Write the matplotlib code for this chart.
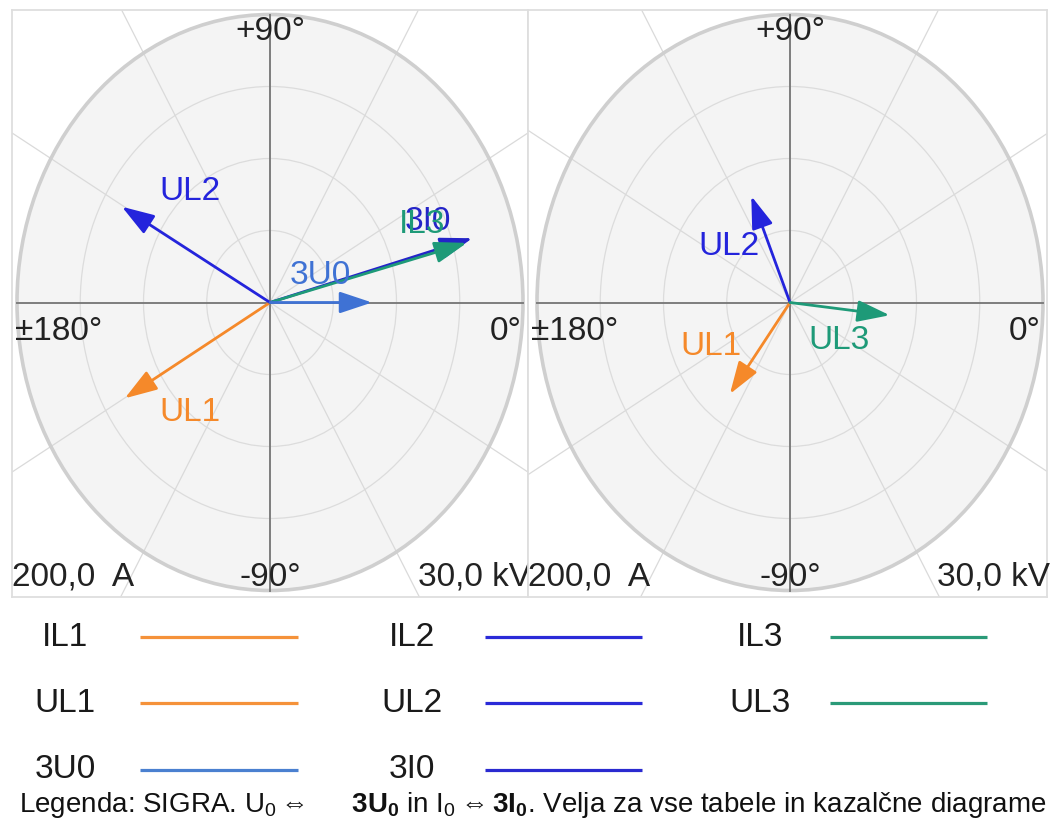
import numpy as np
import matplotlib
matplotlib.use("Agg")
import matplotlib.pyplot as plt
from matplotlib.patches import Circle

plt.rcParams['font.family'] = ['Liberation Sans', 'DejaVu Sans']
plt.rcParams['mathtext.fontset'] = 'custom'
plt.rcParams['mathtext.rm'] = 'Liberation Sans'
plt.rcParams['mathtext.bf'] = 'Liberation Sans:bold'
plt.rcParams['mathtext.it'] = 'Liberation Sans:italic'

# ---------------- data ----------------
current_scale_A = 200.0     # full-scale radius for currents
voltage_scale_kV = 30.0     # full-scale radius for voltages

left_names = ['3I0', 'IL3', 'UL1', 'UL2', '3U0']
left_mags = [166.0, 161.0, 19.9, 20.2, 12.1]
left_angles = [15.6, 14.9, -149.9, 150.4, 0.0]
left_units = ['A', 'A', 'kV', 'kV', 'kV']

right_names = ['UL1', 'UL2', 'UL3']
right_mags = [11.9, 12.0, 11.9]
right_angles = [-126.8, 112.5, -6.4]
right_units = ['kV', 'kV', 'kV']

legend_labels = ['IL1', 'IL2', 'IL3', 'UL1', 'UL2', 'UL3', '3U0', '3I0']

angle_labels = ['+90°', '-90°', '±180°', '0°']
scale_labels = ['200,0  A', '30,0 kV']

# ---------------- styles ----------------
colors = {
    'IL1': '#F5892A', 'UL1': '#F5892A',
    'IL2': '#2424DC', 'UL2': '#2424DC', '3I0': '#2424C8',
    'IL3': '#1E9A78', 'UL3': '#1E9A78',
    '3U0': '#3F72D4',
}
legend_colors = {
    'IL1': '#F5923A', 'UL1': '#F5923A',
    'IL2': '#2A2AD8', 'UL2': '#2A2AD8', '3I0': '#2A2AD0',
    'IL3': '#2A9A78', 'UL3': '#2A9A78',
    '3U0': '#4A80D0',
}
# label positions (data units of the unit circle)
left_label_pos = {'UL2': (-0.316, 0.385), 'UL1': (-0.316, -0.382),
                  '3U0': (0.20, 0.094), 'IL3': (0.600, 0.272), '3I0': (0.625, 0.280)}
right_label_pos = {'UL2': (-0.241, 0.194), 'UL1': (-0.312, -0.153), 'UL3': (0.194, -0.132)}

W, H = 1053, 831
fig = plt.figure(figsize=(W / 100, H / 100), dpi=100)
fig.patch.set_facecolor('white')

PX_X = 253.0  # pixels per unit radius horizontally
PX_Y = 288.0  # pixels per unit radius vertically
TXT = 24


def make_panel(frame_x0, frame_x1, cx, names, mags, angles, units, label_pos):
    top, bottom, cy = 10, 597, 302.5
    ax = fig.add_axes([frame_x0 / W, 1 - bottom / H, (frame_x1 - frame_x0) / W, (bottom - top) / H])
    ax.set_xlim(-(cx - frame_x0) / PX_X, (frame_x1 - cx) / PX_X)
    ax.set_ylim(-(bottom - cy) / PX_Y, (cy - top) / PX_Y)
    ax.set_aspect('auto')
    ax.set_xticks([])
    ax.set_yticks([])
    for s in ax.spines.values():
        s.set_color('#dedede')
        s.set_linewidth(1.3)
    ax.add_patch(Circle((0, 0), 1.0, facecolor='#f4f4f4', edgecolor='none', zorder=0))
    for r in [0.25, 0.5, 0.75]:
        ax.add_patch(Circle((0, 0), r, facecolor='none', edgecolor='#dcdcdc', lw=0.9, zorder=1))
    for a in range(30, 360, 30):
        if a % 90 == 0:
            continue
        t = np.deg2rad(a)
        ax.plot([0, 3 * np.cos(t)], [0, 3 * np.sin(t)], color='#dadada', lw=0.9, zorder=1)
    ax.add_patch(Circle((0, 0), 1.0, facecolor='none', edgecolor='#cfcfcf', lw=2.6, zorder=2))
    ax.plot([-1, 1], [0, 0], color='#7d7d7d', lw=1.4, zorder=3)
    ax.plot([0, 0], [-1, 1], color='#7d7d7d', lw=1.4, zorder=3)
    ax.text(0, (cy - 32) / PX_Y, angle_labels[0], ha='center', va='center', fontsize=TXT, color='#222222', zorder=6)
    ax.text(0, -(577 - cy) / PX_Y, angle_labels[1], ha='center', va='center', fontsize=TXT, color='#222222', zorder=6)
    ax.text(-(cx - frame_x0 - 3) / PX_X, -(331 - cy) / PX_Y, angle_labels[2], ha='left', va='center',
            fontsize=TXT, color='#222222', zorder=6)
    ax.text((frame_x1 - cx - 6) / PX_X, -(331 - cy) / PX_Y, angle_labels[3], ha='right', va='center',
            fontsize=TXT, color='#222222', zorder=6)
    ax.text(0.0, -(577 - cy) / PX_Y, scale_labels[0], transform=ax.get_yaxis_transform(),
            ha='left', va='center', fontsize=TXT, color='#222222', zorder=6, clip_on=False)
    ax.text(1.006, -(577 - cy) / PX_Y, scale_labels[1], transform=ax.get_yaxis_transform(),
            ha='right', va='center', fontsize=TXT, color='#222222', zorder=6, clip_on=False)
    for n, m, a, u in zip(names, mags, angles, units):
        scale = current_scale_A if u == 'A' else voltage_scale_kV
        r = m / scale
        t = np.deg2rad(a)
        ax.annotate('', xy=(r * np.cos(t), r * np.sin(t)), xytext=(0, 0),
                    arrowprops=dict(arrowstyle='-|>,head_length=0.9,head_width=0.3', mutation_scale=22,
                                    lw=2.0, color=colors[n], shrinkA=0, shrinkB=0), zorder=5)
        lx, ly = label_pos[n]
        ax.text(lx, ly, n, color=colors[n], fontsize=TXT, ha='center', va='center', zorder=6)
    return ax


make_panel(12, 528, 270, left_names, left_mags, left_angles, left_units, left_label_pos)
make_panel(528, 1047, 790, right_names, right_mags, right_angles, right_units, right_label_pos)

# ---------------- legend ----------------
lax = fig.add_axes([0, 0, 1, 1], zorder=-1)
lax.set_xlim(0, W)
lax.set_ylim(H, 0)
lax.axis('off')
col_text_x = [65, 412, 760]
col_line_x = [(140, 298), (485, 642), (830, 987)]
row_y = [637, 703, 770]
for i, lab in enumerate(legend_labels):
    row, col = divmod(i, 3)
    lax.text(col_text_x[col], row_y[row], lab, ha='center', va='center', fontsize=TXT, color='#1a1a1a')
    x0, x1 = col_line_x[col]
    lax.plot([x0, x1], [row_y[row], row_y[row]], color=legend_colors[lab], lw=2.3, solid_capstyle='butt')

caption = (r"Legenda: SIGRA. U$_0$$\Leftrightarrow$     $\mathbf{3U_0}$ in I$_0$$\Leftrightarrow$"
           r"$\mathbf{3I_0}$. Velja za vse tabele in kazalčne diagrame")
fig.text(533 / W, 1 - 805 / H, caption, ha='center', va='center', fontsize=20, color='#111111')

fig.savefig('out.png', dpi=100, facecolor='white')
